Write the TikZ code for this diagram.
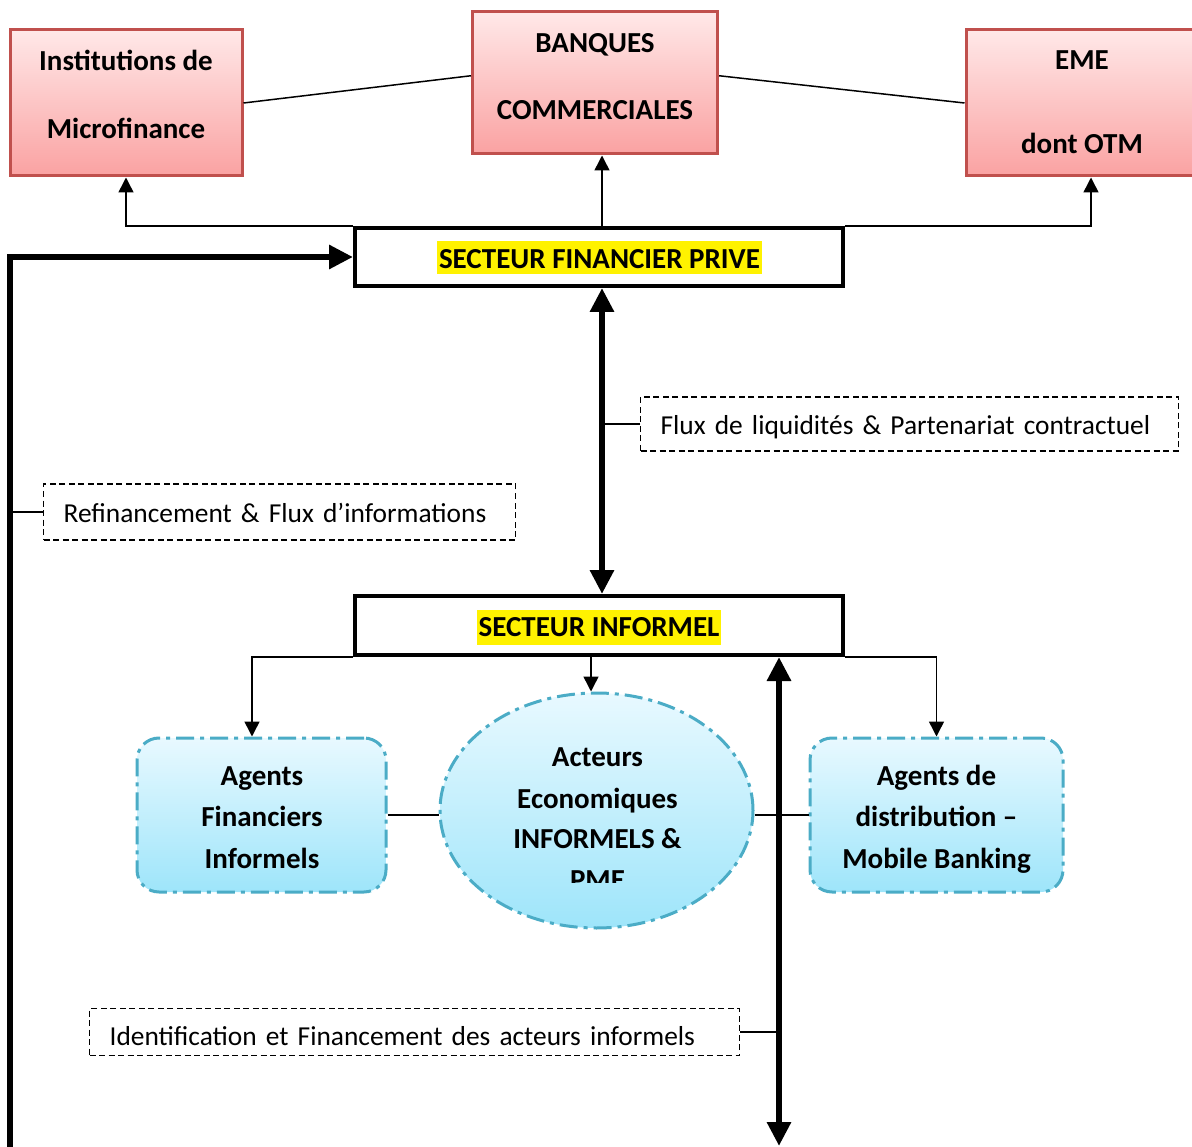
\documentclass[tikz,border=0pt]{standalone}
\usepackage{fontspec}
\setmainfont{Carlito}
\usetikzlibrary{arrows.meta,shapes.geometric,calc}

\definecolor{instred}{RGB}{192,80,77}
\definecolor{insttop}{RGB}{255,232,232}
\definecolor{instbot}{RGB}{250,162,162}
\definecolor{actorblue}{RGB}{75,172,198}
\definecolor{actortop}{RGB}{232,249,255}
\definecolor{actorbot}{RGB}{158,229,250}

\begin{document}
\begin{tikzpicture}[x=1pt,y=-1pt,
  inst/.style={draw=instred,line width=3pt,top color=insttop,bottom color=instbot,inner sep=0pt},
  sector/.style={draw,line width=4pt,inner sep=0pt,minimum width=488pt},
  actor/.style={draw=actorblue,line width=3pt,dash pattern=on 18pt off 6pt on 4pt off 6pt,top color=actortop,bottom color=actorbot,inner sep=0pt},
  note/.style={draw,line width=1.2pt,dash pattern=on 6pt off 3.5pt,inner xsep=20pt,inner ysep=0pt,align=left,anchor=west,font=\fontsize{27.4}{34}\selectfont},
  lbl/.style={font=\bfseries\fontsize{29}{35}\selectfont,anchor=base,inner sep=0pt},
  hilite/.style={fill=yellow,inner sep=2pt,text height=25pt},
  link/.style={line width=1.5pt},
  feed/.style={line width=1.5pt,-{Triangle[length=15pt,width=15pt]}},
  flow/.style={line width=6pt,{Triangle[length=24pt,width=23pt]}-{Triangle[length=24pt,width=23pt]}},
]
\useasboundingbox (0,0) rectangle (1192,1147);
\clip (0,0) rectangle (1192,1147);

% axes of the thick arrows
\coordinate (mid) at (602,0);
\coordinate (lfoot) at (10,1150);
\coordinate (rfoot) at (779,1146);

% financial institutions
\node[inst,minimum width=232pt,minimum height=146pt] (imf) at (126,103) {};
\node[inst,minimum width=245pt,minimum height=142pt] (bc) at (595,83) {};
\node[inst,minimum width=250pt,minimum height=146pt] (eme) at (1091,103) {};
\node[lbl] (imf-1) at (126,70.5) {Institutions de};
\node[lbl] (imf-2) at (126,138.5) {Microfinance};
\node[lbl] (bc-1) at (595,52.5) {BANQUES};
\node[lbl] (bc-2) at (595,119.5) {COMMERCIALES};
\node[lbl] (eme-1) at (1082,69.5) {EME};
\node[lbl] (eme-2) at (1082,153.5) {dont OTM};

\draw[link] (imf.east) -- ($(bc.north west)!.45!(bc.south west)$);
\draw[link] ($(bc.north east)!.45!(bc.south east)$) -- (eme.west);

% the two sectors
\node[sector,minimum height=58pt] (sfp) at (599,257) {};
\node[sector,minimum height=59pt] (si) at (599,625.5) {};
\node[lbl,hilite,text depth=4pt] (sfp-txt) at (599.5,268.5) {SECTEUR FINANCIER PRIVE};
\node[lbl,hilite,text depth=6pt] (si-txt) at (599,636.5) {SECTEUR INFORMEL};

\draw[feed] (sfp.north -| mid) -- (bc.south -| mid);
\draw[feed] (sfp.north west) -| (imf.south);
\draw[feed] (sfp.north east) -| (eme.south);

\draw[flow] (sfp.south -| mid) -- (si.north -| mid);
\draw[line width=6pt,line join=miter,-{Triangle[length=24pt,width=23pt]}] (lfoot) |- (sfp.west);
\draw[flow] (si.south -| rfoot) -- (rfoot);

% informal actors
\node[actor,rounded corners=22pt,minimum width=249pt,minimum height=154pt] (afi) at (261.5,815) {};
\node[actor,ellipse,minimum width=313pt,minimum height=235pt] (aei) at (596.5,810.5) {};
\node[actor,rounded corners=22pt,minimum width=253pt,minimum height=154pt] (adm) at (936.5,815) {};

\node[lbl] (afi-1) at (262,785) {Agents};
\node[lbl] (afi-2) at (262,826) {Financiers};
\node[lbl] (afi-3) at (262,868) {Informels};
\node[lbl] (aei-1) at (597.5,766) {Acteurs};
\node[lbl] (aei-2) at (597.5,808) {Economiques};
\node[lbl] (aei-3) at (597.5,848) {INFORMELS \&};
\begin{scope}
  \clip (440,850) rectangle (760,882);
  \node[lbl] (aei-4) at (597.5,889.5) {PME};
\end{scope}
\node[lbl] (adm-1) at (936.5,785) {Agents de};
\node[lbl] (adm-2) at (936.5,826) {distribution –};
\node[lbl] (adm-3) at (936.5,868) {Mobile Banking};

\draw[feed] (si.south west) -| ([xshift=-9.5pt]afi.north);
\draw[feed] ([xshift=-5.5pt]aei.north |- si.south) -- ([xshift=-5.5pt]aei.north);
\draw[feed] (si.south east) -| (adm.north);
\draw[link] (afi.east) -- (afi.east -| aei.west);
\draw[link] (aei.east |- adm.west) -- (adm.west);

% flow notes
\node[note,text width=498pt,minimum height=54pt,text height=24pt,text depth=2pt] (flux) at (640,424) {\mbox{Flux de liquidités \& Partenariat contractuel}};
\node[note,text width=432pt,minimum height=56pt,text height=22pt,text depth=2pt] (refi) at (43,512) {\mbox{Refinancement \& Flux d’informations}};
\node[note,text width=610pt,minimum height=47pt,text height=26pt,text depth=0pt] (ident) at (89,1032) {\mbox{Identification et Financement des acteurs informels}};
\draw[link] (flux.west) -- (flux.west -| mid);
\draw[link] (refi.west) -- (refi.west -| lfoot);
\draw[link] (ident.east) -- (ident.east -| rfoot);

\end{tikzpicture}
\end{document}
